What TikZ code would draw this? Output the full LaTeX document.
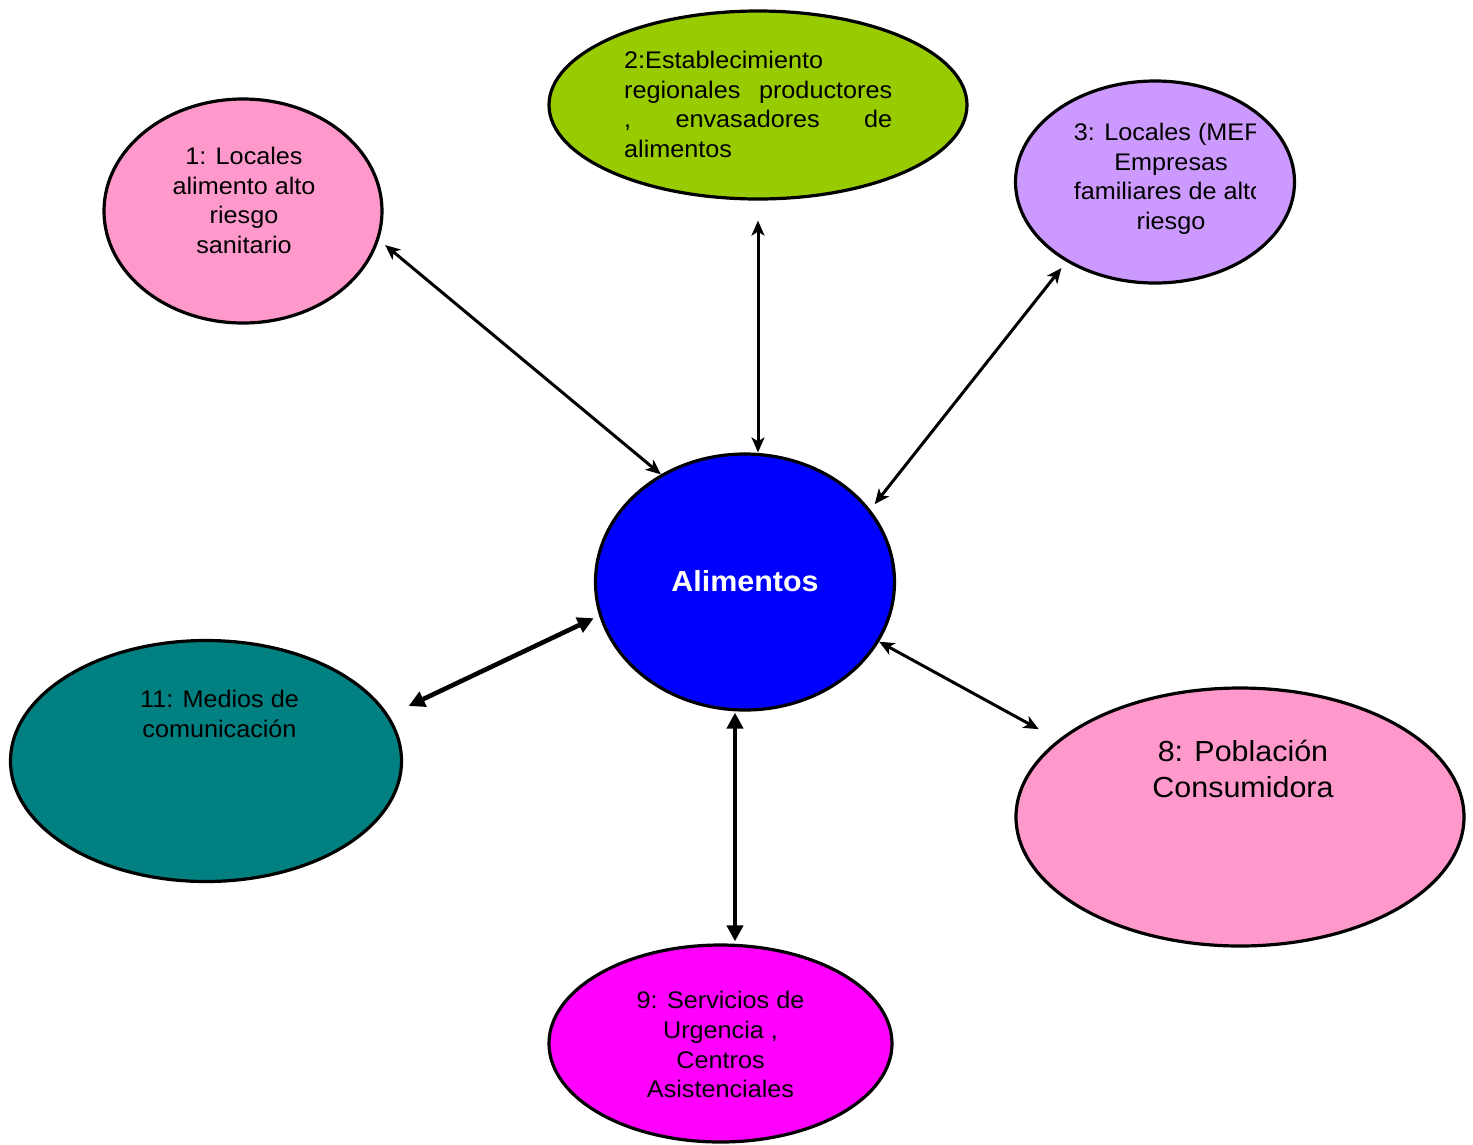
\documentclass[tikz,border=0pt]{standalone}
\usepackage{fontspec}
\setmainfont[FakeStretch=1.05]{Liberation Sans}
\usetikzlibrary{arrows.meta,shapes.geometric}
\definecolor{pinkA}{HTML}{FF99CC}
\definecolor{greenA}{HTML}{99CC00}
\definecolor{purpleA}{HTML}{CC99FF}
\definecolor{blueA}{HTML}{0000FF}
\definecolor{tealA}{HTML}{008080}
\definecolor{magentaA}{HTML}{FF00FF}
\begin{document}
\begin{tikzpicture}[x=1pt,y=-1pt,
  ell/.style={ellipse, draw=black, line width=3.2pt, inner sep=0pt},
  txt/.style={inner sep=0pt, font=\fontsize{24pt}{29.7pt}\selectfont, align=center, anchor=north},
  bigtxt/.style={inner sep=0pt, font=\fontsize{29pt}{36pt}\selectfont, align=center, anchor=north},
  thinarrow/.style={line width=3pt, {Stealth[length=15pt,width=13pt,inset=4pt]}-{Stealth[length=15pt,width=13pt,inset=4pt]}},
  thickarrow/.style={line width=4.6pt, {Triangle[length=16pt,width=16pt]}-{Triangle[length=16pt,width=16pt]}}]
\useasboundingbox (0,0) rectangle (1473,1144);

% ellipses
\node[ell, fill=pinkA, minimum width=278pt, minimum height=224pt] (e1) at (243,211) {};
\node[ell, fill=greenA, minimum width=418pt, minimum height=188pt] (e2) at (758,105) {};
\node[ell, fill=purpleA, minimum width=279pt, minimum height=202pt] (e3) at (1155,182) {};
\node[ell, fill=blueA, minimum width=299pt, minimum height=256pt, text=white,
      font=\fontsize{29pt}{32pt}\selectfont\bfseries] (c) at (745,582) {\raisebox{3pt}{Alimentos}};
\node[ell, fill=tealA, minimum width=391pt, minimum height=241pt] (e11) at (206,761) {};
\node[ell, fill=pinkA, minimum width=448pt, minimum height=258pt] (e8) at (1240,817) {};
\node[ell, fill=magentaA, minimum width=343pt, minimum height=197pt] (e9) at (720.5,1043.5) {};

% texts
\node[txt] (t1) at (244,147) {1: Locales\\alimento alto\\riesgo\\sanitario};
\node[txt, anchor=north west, align=left, text width=268pt] (t2) at (624,51)
  {2:Establecimiento\\regionales\hfill productores\\,\hfill envasadores\hfill de\\alimentos};
\begin{scope}
  \clip (1000,90) rectangle (1255,250);
  \node[txt] (t3) at (1171,123) {3: Locales (MEF)\\Empresas\\familiares de alto\kern4pt\\riesgo};
\end{scope}
\node[txt] (t11) at (219.5,690) {11: Medios de\\comunicación};
\node[bigtxt] (t8) at (1243,740) {8: Población\\Consumidora};
\node[txt] (t9) at (720.5,991) {9: Servicios de\\Urgencia ,\\Centros\\Asistenciales};

% connectors
\draw[thinarrow, shorten <=8pt] (e1.-12) -- (c.128);
\draw[thinarrow, shorten <=20pt] (e2.south) -- ([xshift=13pt]c.north);
\draw[thinarrow, shorten <=8pt, shorten >=7pt] (e3.222) -- (c.30);
\draw[thickarrow, shorten <=22pt, shorten >=6pt] (e11.14) -- (c.193);
\draw[thinarrow, shorten >=22pt] (c.-24) -- (e8.157);
\draw[thickarrow, shorten <=1pt, shorten >=2pt] ([xshift=-10pt]c.south) -- ([xshift=14.5pt]e9.north);
\end{tikzpicture}
\end{document}
